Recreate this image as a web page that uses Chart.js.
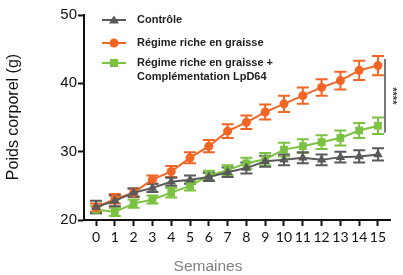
<!DOCTYPE html>
<html><head><meta charset="utf-8">
<script src="https://cdn.jsdelivr.net/npm/chart.js@4"></script>
<style>html,body{margin:0;padding:0;background:#fff;}#w{width:403px;height:275px;position:relative;}</style>
</head><body><div id="w"><canvas id="c" width="403" height="275"></canvas></div>
<script>
const weeks = [0,1,2,3,4,5,6,7,8,9,10,11,12,13,14,15];
const seriesLabels = ["Contrôle", "Régime riche en graisse", "Régime riche en graisse +|Complémentation LpD64"];
const controle = [21.9,22.8,24.0,24.7,25.6,25.9,26.3,27.0,27.6,28.6,28.8,29.1,28.8,29.2,29.3,29.6];
const hfd      = [21.8,23.1,24.0,25.9,27.1,29.1,30.8,33.0,34.3,35.8,37.0,38.2,39.4,40.4,41.9,42.6];
const lpd64    = [21.5,21.2,22.4,23.0,24.0,25.0,26.5,27.3,28.3,28.9,30.3,30.8,31.4,32.0,33.1,33.8];
const errControle = [0.9,0.8,0.6,0.6,0.6,0.6,0.6,0.7,0.8,0.8,0.8,0.8,0.8,0.8,0.9,0.9];
const errHfd      = [0.6,0.7,0.6,0.6,0.8,0.8,0.9,1.0,1.0,1.1,1.2,1.2,1.2,1.3,1.4,1.4];
const errLpd64    = [0.5,0.6,0.6,0.6,0.7,0.7,0.7,0.7,0.8,0.9,1.0,1.0,1.0,1.1,1.1,1.2];
const yTicks = [20,30,40,50];
const xTitle = "Semaines";
const yTitle = "Poids corporel (g)";
const sigText = "****";

const cGray = "#595959", cOrange = "#f26524", cGreen = "#7cc242";
const errs = [errControle, errHfd, errLpd64];

function pts(arr){ return weeks.map((w,i)=>({x:w,y:arr[i]})); }

const errorBars = {
  id:'errorBars',
  beforeDatasetsDraw(chart){
    const ctx = chart.ctx, xs = chart.scales.x, ys = chart.scales.y;
    for (let d = chart.data.datasets.length-1; d>=0; d--){
      const ds = chart.data.datasets[d];
      ctx.save();
      ctx.strokeStyle = ds.borderColor; ctx.lineWidth = 2;
      ds.data.forEach((p,i)=>{
        const x = xs.getPixelForValue(p.x);
        const y1 = ys.getPixelForValue(p.y + errs[d][i]);
        const y2 = ys.getPixelForValue(p.y - errs[d][i]);
        ctx.beginPath();
        ctx.moveTo(x,y1); ctx.lineTo(x,y2);
        ctx.moveTo(x-6,y1); ctx.lineTo(x+6,y1);
        ctx.moveTo(x-6,y2); ctx.lineTo(x+6,y2);
        ctx.stroke();
      });
      ctx.restore();
    }
  }
};

const extras = {
  id:'extras',
  afterDraw(chart){
    const ctx = chart.ctx, xs = chart.scales.x, ys = chart.scales.y;
    ctx.save();
    // legend
    const rows = [[20],[43],[63,77]];
    const colors = [cGray,cOrange,cGreen];
    const styles = ['triangle','circle','rect'];
    ctx.font = "bold 11px 'Liberation Sans', Arial, sans-serif";
    ctx.textBaseline = 'middle';
    seriesLabels.forEach((lab,i)=>{
      const y = rows[i][0];
      ctx.strokeStyle = colors[i]; ctx.fillStyle = colors[i]; ctx.lineWidth = 2;
      ctx.beginPath(); ctx.moveTo(102,y); ctx.lineTo(126,y); ctx.stroke();
      const mx = 114;
      ctx.beginPath();
      if (styles[i]==='triangle'){ ctx.moveTo(mx,y-4.5); ctx.lineTo(mx+5,y+3.5); ctx.lineTo(mx-5,y+3.5); ctx.closePath(); }
      else if (styles[i]==='circle'){ ctx.arc(mx,y,4.5,0,Math.PI*2); }
      else { ctx.rect(mx-4,y-4,8,8); }
      ctx.fill();
      ctx.fillStyle = '#222';
      lab.split('|').forEach((t,k)=>{ ctx.fillText(t,137,rows[i][k]); });
    });
    // significance bracket
    const bx = xs.right - 5;
    const yTop = ys.getPixelForValue(hfd[15]+errHfd[15]) + 3;
    const yBot = ys.getPixelForValue(lpd64[15]) + 7;
    ctx.strokeStyle = '#777'; ctx.lineWidth = 2;
    ctx.beginPath(); ctx.moveTo(bx,yTop); ctx.lineTo(bx,yBot); ctx.stroke();
    ctx.save();
    ctx.translate(bx+7,(yTop+yBot)/2);
    ctx.rotate(Math.PI/2);
    ctx.fillStyle = '#444';
    ctx.font = "bold 11px 'Liberation Sans', Arial, sans-serif";
    ctx.textAlign='center'; ctx.textBaseline='middle';
    ctx.fillText(sigText,0,0);
    ctx.restore();
    // axis titles
    ctx.fillStyle = '#808080';
    ctx.font = "15.5px 'Liberation Sans', Arial, sans-serif";
    ctx.textAlign='center'; ctx.textBaseline='middle';
    ctx.fillText(xTitle,208,267);
    ctx.save();
    ctx.translate(14,117); ctx.rotate(-Math.PI/2);
    ctx.fillStyle = '#111';
    ctx.font = "16px 'Liberation Sans', Arial, sans-serif";
    ctx.fillText(yTitle,0,0);
    ctx.restore();
    ctx.restore();
  }
};

new Chart(document.getElementById('c'), {
  type:'line',
  data:{ datasets:[
    {label:seriesLabels[0], data:pts(controle), borderColor:cGray, backgroundColor:cGray, borderWidth:2, pointStyle:'triangle', pointRadius:5.5, pointBorderWidth:0},
    {label:seriesLabels[1], data:pts(hfd), borderColor:cOrange, backgroundColor:cOrange, borderWidth:2, pointStyle:'circle', pointRadius:4.5, pointBorderWidth:0},
    {label:seriesLabels[2], data:pts(lpd64), borderColor:cGreen, backgroundColor:cGreen, borderWidth:2, pointStyle:'rect', pointRadius:5.5, pointBorderWidth:0}
  ]},
  options:{
    responsive:false, animation:false, devicePixelRatio:1,
    layout:{padding:{top:15,right:13,left:0,bottom:0}},
    plugins:{legend:{display:false}, tooltip:{enabled:false}},
    elements:{line:{tension:0}},
    scales:{
      x:{type:'linear', min:-0.64, max:15.64,
        afterBuildTicks(a){ a.ticks = weeks.map(v=>({value:v})); },
        afterFit(a){ a.height = 55; },
        grid:{display:true, drawOnChartArea:false, drawTicks:true, tickLength:6, tickWidth:2, tickColor:'#111'},
        border:{display:true, color:'#111', width:2},
        ticks:{color:'#111', padding:3, maxRotation:0, autoSkip:false, font:{family:"Lato, 'Open Sans', sans-serif", size:14}}
      },
      y:{type:'linear', min:20, max:50,
        afterBuildTicks(a){ a.ticks = yTicks.map(v=>({value:v})); },
        afterFit(a){ a.width = 84; },
        grid:{display:true, drawOnChartArea:false, drawTicks:true, tickLength:6, tickWidth:2, tickColor:'#111'},
        border:{display:true, color:'#111', width:2},
        ticks:{color:'#111', padding:1, font:{family:"'Liberation Sans', Arial, sans-serif", size:15}}
      }
    }
  },
  plugins:[errorBars, extras]
});
</script></body></html>
